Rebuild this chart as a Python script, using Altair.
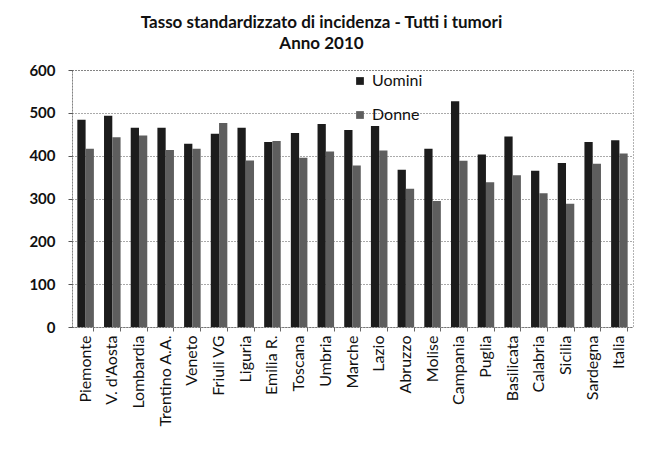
import altair as alt
import pandas as pd

regioni = ["Piemonte", "V. d'Aosta", "Lombardia", "Trentino A.A.", "Veneto", "Friuli VG",
           "Liguria", "Emilia R.", "Toscana", "Umbria", "Marche", "Lazio", "Abruzzo",
           "Molise", "Campania", "Puglia", "Basilicata", "Calabria", "Sicilia",
           "Sardegna", "Italia"]
uomini = [484, 493, 465, 465, 428, 451, 465, 432, 453, 474, 460, 469, 367,
          416, 527, 403, 445, 365, 383, 432, 436]
donne = [416, 443, 447, 413, 416, 476, 389, 434, 395, 410, 377, 412, 323,
         294, 388, 338, 354, 312, 288, 381, 405]
serie = ["Uomini", "Donne"]

rows = []
for r, u, d in zip(regioni, uomini, donne):
    rows.append({"Regione": r, "Sesso": "Uomini", "Tasso": u})
    rows.append({"Regione": r, "Sesso": "Donne", "Tasso": d})
df = pd.DataFrame(rows)

FONT = "Lato"

chart = alt.Chart(df).mark_bar().encode(
    x=alt.X("Regione:N", sort=regioni, title=None,
            scale=alt.Scale(paddingInner=0.38, paddingOuter=0.2),
            axis=alt.Axis(labelAngle=270, labelFontSize=16, labelFont=FONT,
                          labelColor="#111", tickSize=4, labelPadding=4,
                          domainDash=[1, 2], domainColor="#666", tickColor="#666",
                          bandPosition=1)),
    xOffset=alt.XOffset("Sesso:N", sort=serie),
    y=alt.Y("Tasso:Q", title=None,
            scale=alt.Scale(domain=[0, 600], nice=False),
            axis=alt.Axis(values=[0, 100, 200, 300, 400, 500, 600],
                          labelFontSize=15, labelFont=FONT, labelFontWeight="bold",
                          labelColor="#111", labelPadding=13, tickSize=4,
                          grid=True, gridDash=[1, 2], gridColor="#555",
                          domainDash=[1, 2], domainColor="#555", tickColor="#555")),
    color=alt.Color("Sesso:N", sort=serie,
                    scale=alt.Scale(domain=serie, range=["#1c1c1c", "#5e5e5e"]),
                    legend=alt.Legend(title=None, orient="none", legendX=280, legendY=3,
                                      symbolType="square", symbolSize=60,
                                      labelFontSize=16, labelFont=FONT, labelColor="#111",
                                      rowPadding=18)),
).properties(
    width=561,
    height=257,
    title=alt.TitleParams(
        text=["Tasso standardizzato di incidenza - Tutti i tumori", "Anno 2010"],
        font=FONT, fontSize=17, fontWeight="bold", color="#111",
        anchor="middle", dx=-31, offset=10, lineHeight=21),
    autosize=alt.AutoSizeParams(type="none"),
    padding={"left": 64, "top": 62, "right": 20, "bottom": 120},
).configure_view(
    stroke="#666", strokeDash=[1, 2]
)

chart.save("out.html", embed_options={"renderer": "svg", "actions": False})
